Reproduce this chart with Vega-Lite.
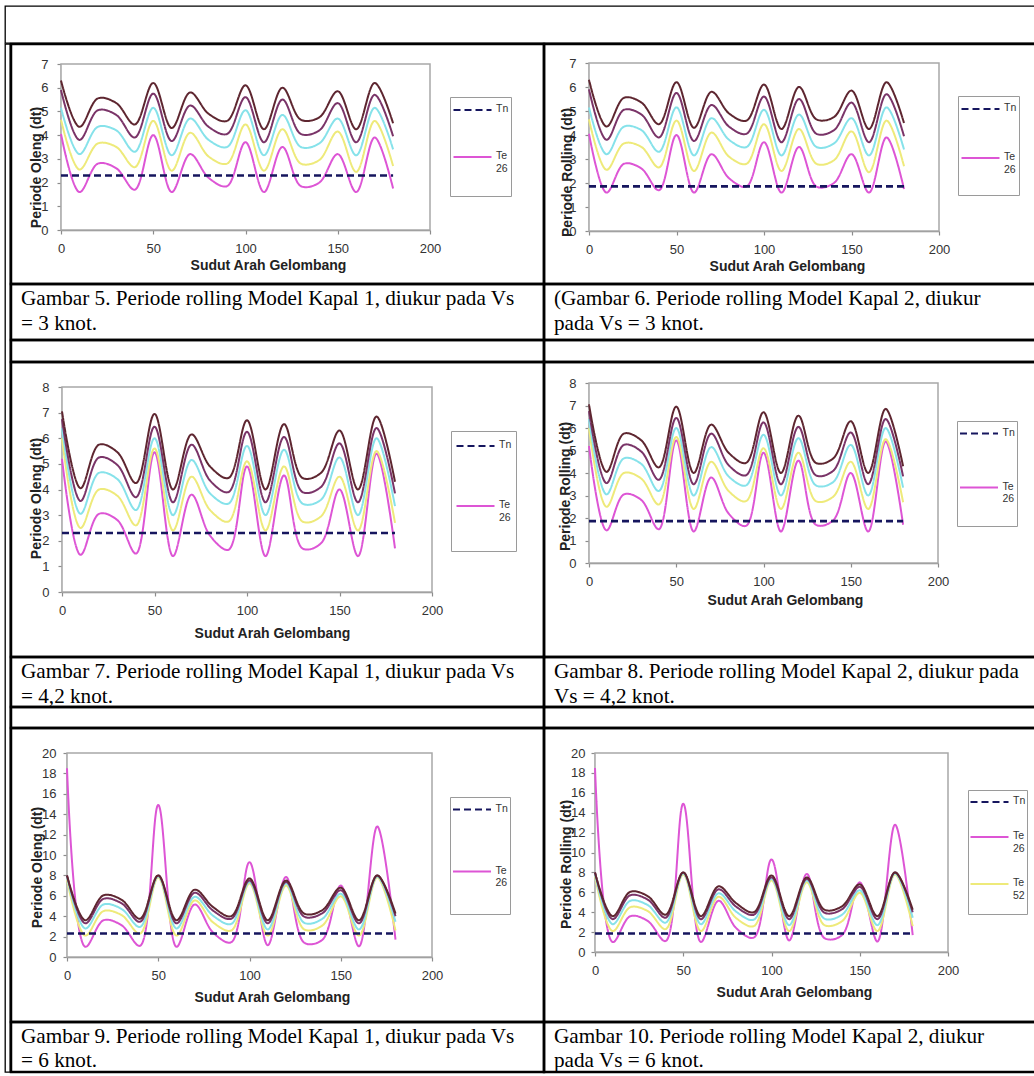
{
  "$schema": "https://vega.github.io/schema/vega-lite/v6.json",
  "padding": {"left": 4, "top": 5, "right": 0, "bottom": 0},
  "background": "white",
  "spacing": -3,
  "config": {
    "font": "Liberation Sans",
    "axis": {"grid": false, "domainColor": "#8c8c8c", "domainWidth": 1.5, "tickColor": "#8c8c8c", "tickSize": 4, "tickWidth": 1.2, "labelFont": "Liberation Sans", "labelFontSize": 13, "labelColor": "#333333", "labelFlush": false, "labelOverlap": false, "titleFont": "Liberation Sans", "titleFontSize": 14, "titleFontWeight": "bold", "titleColor": "#222222", "titleBaseline": "middle", "titleAlign": "center"},
    "axisY": {"titleAngle": 270},
    "legend": {"orient": "none", "strokeColor": "#9a9a9a", "fillColor": "white", "symbolType": "M-1,0H3", "symbolSize": 361, "symbolStrokeWidth": 2.2, "labelFont": "Liberation Sans", "labelFontSize": 10.5, "labelColor": "#333333", "labelBaseline": "top", "labelOffset": 22, "titleOrient": "bottom", "titleFontSize": 10}
  },
  "datasets": {
    "tn1": [{"sudut": 0, "T": 2.3, "seri": "Tn"}, {"sudut": 180, "T": 2.3, "seri": "Tn"}],
    "tn2": [{"sudut": 0, "T": 1.86, "seri": "Tn"}, {"sudut": 180, "T": 1.86, "seri": "Tn"}],
    "v3": [
      {"sudut":0,"T":4.05,"seri":"Te 26"},{"sudut":10,"T":1.6,"seri":"Te 26"},{"sudut":20,"T":2.8,"seri":"Te 26"},{"sudut":30,"T":2.6,"seri":"Te 26"},{"sudut":40,"T":1.7,"seri":"Te 26"},{"sudut":50,"T":4.0,"seri":"Te 26"},{"sudut":60,"T":1.6,"seri":"Te 26"},{"sudut":70,"T":3.2,"seri":"Te 26"},{"sudut":80,"T":2.2,"seri":"Te 26"},{"sudut":90,"T":1.85,"seri":"Te 26"},{"sudut":100,"T":3.7,"seri":"Te 26"},{"sudut":110,"T":1.6,"seri":"Te 26"},{"sudut":120,"T":3.5,"seri":"Te 26"},{"sudut":130,"T":1.85,"seri":"Te 26"},{"sudut":140,"T":2.0,"seri":"Te 26"},{"sudut":150,"T":3.2,"seri":"Te 26"},{"sudut":160,"T":1.6,"seri":"Te 26"},{"sudut":170,"T":3.9,"seri":"Te 26"},{"sudut":180,"T":1.75,"seri":"Te 26"},
      {"sudut":0,"T":4.65,"seri":"Te 52"},{"sudut":10,"T":2.55,"seri":"Te 52"},{"sudut":20,"T":3.65,"seri":"Te 52"},{"sudut":30,"T":3.5,"seri":"Te 52"},{"sudut":40,"T":2.65,"seri":"Te 52"},{"sudut":50,"T":4.6,"seri":"Te 52"},{"sudut":60,"T":2.5,"seri":"Te 52"},{"sudut":70,"T":4.1,"seri":"Te 52"},{"sudut":80,"T":3.1,"seri":"Te 52"},{"sudut":90,"T":2.8,"seri":"Te 52"},{"sudut":100,"T":4.45,"seri":"Te 52"},{"sudut":110,"T":2.5,"seri":"Te 52"},{"sudut":120,"T":4.25,"seri":"Te 52"},{"sudut":130,"T":2.8,"seri":"Te 52"},{"sudut":140,"T":2.95,"seri":"Te 52"},{"sudut":150,"T":4.15,"seri":"Te 52"},{"sudut":160,"T":2.45,"seri":"Te 52"},{"sudut":170,"T":4.6,"seri":"Te 52"},{"sudut":180,"T":2.7,"seri":"Te 52"},
      {"sudut":0,"T":5.15,"seri":"Te 78"},{"sudut":10,"T":3.2,"seri":"Te 78"},{"sudut":20,"T":4.35,"seri":"Te 78"},{"sudut":30,"T":4.2,"seri":"Te 78"},{"sudut":40,"T":3.3,"seri":"Te 78"},{"sudut":50,"T":5.15,"seri":"Te 78"},{"sudut":60,"T":3.15,"seri":"Te 78"},{"sudut":70,"T":4.7,"seri":"Te 78"},{"sudut":80,"T":3.8,"seri":"Te 78"},{"sudut":90,"T":3.5,"seri":"Te 78"},{"sudut":100,"T":5.05,"seri":"Te 78"},{"sudut":110,"T":3.15,"seri":"Te 78"},{"sudut":120,"T":4.85,"seri":"Te 78"},{"sudut":130,"T":3.5,"seri":"Te 78"},{"sudut":140,"T":3.65,"seri":"Te 78"},{"sudut":150,"T":4.7,"seri":"Te 78"},{"sudut":160,"T":3.15,"seri":"Te 78"},{"sudut":170,"T":5.15,"seri":"Te 78"},{"sudut":180,"T":3.4,"seri":"Te 78"},
      {"sudut":0,"T":5.9,"seri":"Te 104"},{"sudut":10,"T":3.8,"seri":"Te 104"},{"sudut":20,"T":5.05,"seri":"Te 104"},{"sudut":30,"T":4.85,"seri":"Te 104"},{"sudut":40,"T":3.9,"seri":"Te 104"},{"sudut":50,"T":5.75,"seri":"Te 104"},{"sudut":60,"T":3.75,"seri":"Te 104"},{"sudut":70,"T":5.25,"seri":"Te 104"},{"sudut":80,"T":4.35,"seri":"Te 104"},{"sudut":90,"T":4.05,"seri":"Te 104"},{"sudut":100,"T":5.6,"seri":"Te 104"},{"sudut":110,"T":3.7,"seri":"Te 104"},{"sudut":120,"T":5.5,"seri":"Te 104"},{"sudut":130,"T":4.05,"seri":"Te 104"},{"sudut":140,"T":4.2,"seri":"Te 104"},{"sudut":150,"T":5.35,"seri":"Te 104"},{"sudut":160,"T":3.7,"seri":"Te 104"},{"sudut":170,"T":5.7,"seri":"Te 104"},{"sudut":180,"T":3.95,"seri":"Te 104"},
      {"sudut":0,"T":6.3,"seri":"Te 130"},{"sudut":10,"T":4.35,"seri":"Te 130"},{"sudut":20,"T":5.55,"seri":"Te 130"},{"sudut":30,"T":5.35,"seri":"Te 130"},{"sudut":40,"T":4.45,"seri":"Te 130"},{"sudut":50,"T":6.2,"seri":"Te 130"},{"sudut":60,"T":4.3,"seri":"Te 130"},{"sudut":70,"T":5.8,"seri":"Te 130"},{"sudut":80,"T":4.9,"seri":"Te 130"},{"sudut":90,"T":4.6,"seri":"Te 130"},{"sudut":100,"T":6.1,"seri":"Te 130"},{"sudut":110,"T":4.25,"seri":"Te 130"},{"sudut":120,"T":6.0,"seri":"Te 130"},{"sudut":130,"T":4.65,"seri":"Te 130"},{"sudut":140,"T":4.75,"seri":"Te 130"},{"sudut":150,"T":5.85,"seri":"Te 130"},{"sudut":160,"T":4.25,"seri":"Te 130"},{"sudut":170,"T":6.2,"seri":"Te 130"},{"sudut":180,"T":4.5,"seri":"Te 130"}
    ],
    "v42": [
      {"sudut":0,"T":5.2,"seri":"Te 26"},{"sudut":10,"T":1.45,"seri":"Te 26"},{"sudut":20,"T":3.05,"seri":"Te 26"},{"sudut":30,"T":2.8,"seri":"Te 26"},{"sudut":40,"T":1.5,"seri":"Te 26"},{"sudut":50,"T":5.45,"seri":"Te 26"},{"sudut":60,"T":1.4,"seri":"Te 26"},{"sudut":70,"T":3.8,"seri":"Te 26"},{"sudut":80,"T":2.2,"seri":"Te 26"},{"sudut":90,"T":1.65,"seri":"Te 26"},{"sudut":100,"T":4.9,"seri":"Te 26"},{"sudut":110,"T":1.4,"seri":"Te 26"},{"sudut":120,"T":4.55,"seri":"Te 26"},{"sudut":130,"T":1.7,"seri":"Te 26"},{"sudut":140,"T":1.9,"seri":"Te 26"},{"sudut":150,"T":4.0,"seri":"Te 26"},{"sudut":160,"T":1.4,"seri":"Te 26"},{"sudut":170,"T":5.4,"seri":"Te 26"},{"sudut":180,"T":1.7,"seri":"Te 26"},
      {"sudut":0,"T":6.0,"seri":"Te 52"},{"sudut":10,"T":2.5,"seri":"Te 52"},{"sudut":20,"T":4.0,"seri":"Te 52"},{"sudut":30,"T":3.75,"seri":"Te 52"},{"sudut":40,"T":2.6,"seri":"Te 52"},{"sudut":50,"T":5.6,"seri":"Te 52"},{"sudut":60,"T":2.4,"seri":"Te 52"},{"sudut":70,"T":4.5,"seri":"Te 52"},{"sudut":80,"T":3.2,"seri":"Te 52"},{"sudut":90,"T":2.75,"seri":"Te 52"},{"sudut":100,"T":5.1,"seri":"Te 52"},{"sudut":110,"T":2.4,"seri":"Te 52"},{"sudut":120,"T":4.9,"seri":"Te 52"},{"sudut":130,"T":2.75,"seri":"Te 52"},{"sudut":140,"T":2.95,"seri":"Te 52"},{"sudut":150,"T":4.5,"seri":"Te 52"},{"sudut":160,"T":2.4,"seri":"Te 52"},{"sudut":170,"T":5.5,"seri":"Te 52"},{"sudut":180,"T":2.7,"seri":"Te 52"},
      {"sudut":0,"T":6.4,"seri":"Te 78"},{"sudut":10,"T":3.05,"seri":"Te 78"},{"sudut":20,"T":4.65,"seri":"Te 78"},{"sudut":30,"T":4.4,"seri":"Te 78"},{"sudut":40,"T":3.2,"seri":"Te 78"},{"sudut":50,"T":6.0,"seri":"Te 78"},{"sudut":60,"T":3.0,"seri":"Te 78"},{"sudut":70,"T":5.15,"seri":"Te 78"},{"sudut":80,"T":3.85,"seri":"Te 78"},{"sudut":90,"T":3.45,"seri":"Te 78"},{"sudut":100,"T":5.7,"seri":"Te 78"},{"sudut":110,"T":3.0,"seri":"Te 78"},{"sudut":120,"T":5.55,"seri":"Te 78"},{"sudut":130,"T":3.45,"seri":"Te 78"},{"sudut":140,"T":3.6,"seri":"Te 78"},{"sudut":150,"T":5.25,"seri":"Te 78"},{"sudut":160,"T":3.0,"seri":"Te 78"},{"sudut":170,"T":6.0,"seri":"Te 78"},{"sudut":180,"T":3.35,"seri":"Te 78"},
      {"sudut":0,"T":6.75,"seri":"Te 104"},{"sudut":10,"T":3.55,"seri":"Te 104"},{"sudut":20,"T":5.25,"seri":"Te 104"},{"sudut":30,"T":4.95,"seri":"Te 104"},{"sudut":40,"T":3.7,"seri":"Te 104"},{"sudut":50,"T":6.45,"seri":"Te 104"},{"sudut":60,"T":3.5,"seri":"Te 104"},{"sudut":70,"T":5.75,"seri":"Te 104"},{"sudut":80,"T":4.35,"seri":"Te 104"},{"sudut":90,"T":3.9,"seri":"Te 104"},{"sudut":100,"T":6.25,"seri":"Te 104"},{"sudut":110,"T":3.5,"seri":"Te 104"},{"sudut":120,"T":6.05,"seri":"Te 104"},{"sudut":130,"T":3.9,"seri":"Te 104"},{"sudut":140,"T":4.1,"seri":"Te 104"},{"sudut":150,"T":5.8,"seri":"Te 104"},{"sudut":160,"T":3.5,"seri":"Te 104"},{"sudut":170,"T":6.4,"seri":"Te 104"},{"sudut":180,"T":3.85,"seri":"Te 104"},
      {"sudut":0,"T":7.05,"seri":"Te 130"},{"sudut":10,"T":4.05,"seri":"Te 130"},{"sudut":20,"T":5.75,"seri":"Te 130"},{"sudut":30,"T":5.45,"seri":"Te 130"},{"sudut":40,"T":4.25,"seri":"Te 130"},{"sudut":50,"T":6.95,"seri":"Te 130"},{"sudut":60,"T":4.0,"seri":"Te 130"},{"sudut":70,"T":6.15,"seri":"Te 130"},{"sudut":80,"T":4.9,"seri":"Te 130"},{"sudut":90,"T":4.45,"seri":"Te 130"},{"sudut":100,"T":6.7,"seri":"Te 130"},{"sudut":110,"T":4.0,"seri":"Te 130"},{"sudut":120,"T":6.55,"seri":"Te 130"},{"sudut":130,"T":4.45,"seri":"Te 130"},{"sudut":140,"T":4.65,"seri":"Te 130"},{"sudut":150,"T":6.3,"seri":"Te 130"},{"sudut":160,"T":4.0,"seri":"Te 130"},{"sudut":170,"T":6.85,"seri":"Te 130"},{"sudut":180,"T":4.3,"seri":"Te 130"}
    ],
    "v6": [
      {"sudut":0,"T":18.5,"seri":"Te 26"},{"sudut":10,"T":1.0,"seri":"Te 26"},{"sudut":20,"T":3.6,"seri":"Te 26"},{"sudut":30,"T":3.1,"seri":"Te 26"},{"sudut":40,"T":1.1,"seri":"Te 26"},{"sudut":50,"T":14.9,"seri":"Te 26"},{"sudut":60,"T":1.0,"seri":"Te 26"},{"sudut":70,"T":5.15,"seri":"Te 26"},{"sudut":80,"T":2.4,"seri":"Te 26"},{"sudut":90,"T":1.45,"seri":"Te 26"},{"sudut":100,"T":9.3,"seri":"Te 26"},{"sudut":110,"T":1.15,"seri":"Te 26"},{"sudut":120,"T":7.85,"seri":"Te 26"},{"sudut":130,"T":1.4,"seri":"Te 26"},{"sudut":140,"T":1.7,"seri":"Te 26"},{"sudut":150,"T":7.0,"seri":"Te 26"},{"sudut":160,"T":1.05,"seri":"Te 26"},{"sudut":170,"T":12.8,"seri":"Te 26"},{"sudut":180,"T":1.7,"seri":"Te 26"},
      {"sudut":0,"T":7.6,"seri":"Te 52"},{"sudut":10,"T":2.1,"seri":"Te 52"},{"sudut":20,"T":4.5,"seri":"Te 52"},{"sudut":30,"T":4.1,"seri":"Te 52"},{"sudut":40,"T":2.3,"seri":"Te 52"},{"sudut":50,"T":7.8,"seri":"Te 52"},{"sudut":60,"T":2.1,"seri":"Te 52"},{"sudut":70,"T":5.55,"seri":"Te 52"},{"sudut":80,"T":3.4,"seri":"Te 52"},{"sudut":90,"T":2.6,"seri":"Te 52"},{"sudut":100,"T":7.2,"seri":"Te 52"},{"sudut":110,"T":2.1,"seri":"Te 52"},{"sudut":120,"T":7.0,"seri":"Te 52"},{"sudut":130,"T":2.7,"seri":"Te 52"},{"sudut":140,"T":3.1,"seri":"Te 52"},{"sudut":150,"T":5.95,"seri":"Te 52"},{"sudut":160,"T":2.1,"seri":"Te 52"},{"sudut":170,"T":7.8,"seri":"Te 52"},{"sudut":180,"T":2.6,"seri":"Te 52"},
      {"sudut":0,"T":7.85,"seri":"Te 78"},{"sudut":10,"T":2.8,"seri":"Te 78"},{"sudut":20,"T":5.15,"seri":"Te 78"},{"sudut":30,"T":4.7,"seri":"Te 78"},{"sudut":40,"T":2.95,"seri":"Te 78"},{"sudut":50,"T":7.9,"seri":"Te 78"},{"sudut":60,"T":2.8,"seri":"Te 78"},{"sudut":70,"T":5.9,"seri":"Te 78"},{"sudut":80,"T":4.05,"seri":"Te 78"},{"sudut":90,"T":3.25,"seri":"Te 78"},{"sudut":100,"T":7.35,"seri":"Te 78"},{"sudut":110,"T":2.7,"seri":"Te 78"},{"sudut":120,"T":7.2,"seri":"Te 78"},{"sudut":130,"T":3.35,"seri":"Te 78"},{"sudut":140,"T":3.75,"seri":"Te 78"},{"sudut":150,"T":6.2,"seri":"Te 78"},{"sudut":160,"T":2.7,"seri":"Te 78"},{"sudut":170,"T":7.9,"seri":"Te 78"},{"sudut":180,"T":3.45,"seri":"Te 78"},
      {"sudut":0,"T":8.0,"seri":"Te 104"},{"sudut":10,"T":3.3,"seri":"Te 104"},{"sudut":20,"T":5.7,"seri":"Te 104"},{"sudut":30,"T":5.25,"seri":"Te 104"},{"sudut":40,"T":3.45,"seri":"Te 104"},{"sudut":50,"T":8.0,"seri":"Te 104"},{"sudut":60,"T":3.3,"seri":"Te 104"},{"sudut":70,"T":6.3,"seri":"Te 104"},{"sudut":80,"T":4.55,"seri":"Te 104"},{"sudut":90,"T":3.75,"seri":"Te 104"},{"sudut":100,"T":7.5,"seri":"Te 104"},{"sudut":110,"T":3.3,"seri":"Te 104"},{"sudut":120,"T":7.35,"seri":"Te 104"},{"sudut":130,"T":3.95,"seri":"Te 104"},{"sudut":140,"T":4.3,"seri":"Te 104"},{"sudut":150,"T":6.55,"seri":"Te 104"},{"sudut":160,"T":3.3,"seri":"Te 104"},{"sudut":170,"T":8.0,"seri":"Te 104"},{"sudut":180,"T":4.0,"seri":"Te 104"},
      {"sudut":0,"T":8.0,"seri":"Te 130"},{"sudut":10,"T":3.6,"seri":"Te 130"},{"sudut":20,"T":6.05,"seri":"Te 130"},{"sudut":30,"T":5.6,"seri":"Te 130"},{"sudut":40,"T":3.75,"seri":"Te 130"},{"sudut":50,"T":8.0,"seri":"Te 130"},{"sudut":60,"T":3.6,"seri":"Te 130"},{"sudut":70,"T":6.6,"seri":"Te 130"},{"sudut":80,"T":4.9,"seri":"Te 130"},{"sudut":90,"T":4.0,"seri":"Te 130"},{"sudut":100,"T":7.7,"seri":"Te 130"},{"sudut":110,"T":3.6,"seri":"Te 130"},{"sudut":120,"T":7.5,"seri":"Te 130"},{"sudut":130,"T":4.25,"seri":"Te 130"},{"sudut":140,"T":4.6,"seri":"Te 130"},{"sudut":150,"T":6.8,"seri":"Te 130"},{"sudut":160,"T":3.6,"seri":"Te 130"},{"sudut":170,"T":8.0,"seri":"Te 130"},{"sudut":180,"T":4.25,"seri":"Te 130"}
    ]
  },
  "vconcat": [
    {"width": 1030, "height": 37, "view": {"stroke": "#000000", "strokeWidth": 1.3}, "data": {"values": [{}]}, "mark": {"type": "text"}, "encoding": {"text": {"value": ""}}},
    {"hconcat": [
      {"width": 5, "height": 1028, "view": {"stroke": "#000000", "strokeWidth": 1.3}, "data": {"values": [{}]}, "mark": {"type": "text"}, "encoding": {"text": {"value": ""}}},
      {"columns": 2, "spacing": 0, "bounds": "flush",
       "resolve": {"scale": {"color": "independent", "strokeDash": "independent"}, "legend": {"color": "independent", "strokeDash": "independent"}},
       "concat": [
          {"width": 533, "height": 240, "view": {"stroke": "#000000", "strokeWidth": 2.5},
           "layer": [
             {"data": {"values": [{}]}, "mark": {"type": "rect", "fill": "white", "stroke": "#a8a8a8", "strokeWidth": 1.5},
              "encoding": {
                "x": {"datum": 0, "type": "quantitative", "scale": {"domain": [0, 200], "range": [50, 419], "nice": false}, "axis": {"title": "Sudut Arah Gelombang", "values": [0, 50, 100, 150, 200], "labelOverlap": false, "offset": -54, "labelPadding": 8, "titleX": 257, "titleY": 35}},
                "x2": {"datum": 200},
                "y": {"datum": 0, "type": "quantitative", "scale": {"domain": [0, 7], "range": [186, 20], "nice": false}, "axis": {"title": "Periode Oleng (dt)", "values": [0, 1, 2, 3, 4, 5, 6, 7], "labelOverlap": false, "offset": -50, "labelPadding": 9, "titleX": -25, "titleY": 123}},
                "y2": {"datum": 7}}},
             {"data": {"name": "v3"}, "mark": {"type": "line", "interpolate": "catmull-rom", "strokeWidth": 2},
              "encoding": {
                "x": {"field": "sudut", "type": "quantitative", "scale": {"domain": [0, 200], "range": [50, 419], "nice": false}, "axis": {"title": "Sudut Arah Gelombang", "values": [0, 50, 100, 150, 200], "labelOverlap": false, "offset": -54, "labelPadding": 8, "titleX": 257, "titleY": 35}},
                "y": {"field": "T", "type": "quantitative", "scale": {"domain": [0, 7], "range": [186, 20], "nice": false}, "axis": {"title": "Periode Oleng (dt)", "values": [0, 1, 2, 3, 4, 5, 6, 7], "labelOverlap": false, "offset": -50, "labelPadding": 9, "titleX": -25, "titleY": 123}},
                "color": {"field": "seri", "type": "nominal", "scale": {"domain": ["Tn", "Te 26", "Te 52", "Te 78", "Te 104", "Te 130"], "range": ["#16165e", "#dd55d5", "#eeea7a", "#86e2ea", "#7a3468", "#5e2630"]}, "legend": {"title": " ", "legendX": 439, "legendY": 53, "values": ["Tn", "Te 26"], "padding": 2, "rowPadding": 31, "titlePadding": 10, "labelExpr": "split(datum.label, ' ')", "encode": {"labels": {"update": {"dy": {"value": -6}}}}}},
                "strokeDash": {"field": "seri", "type": "nominal", "scale": {"domain": ["Tn", "Te 26", "Te 52", "Te 78", "Te 104", "Te 130"], "range": [[7, 4], [1, 0], [1, 0], [1, 0], [1, 0], [1, 0]]}, "legend": {"title": " ", "legendX": 439, "legendY": 53, "values": ["Tn", "Te 26"], "padding": 2, "rowPadding": 31, "titlePadding": 10, "labelExpr": "split(datum.label, ' ')", "encode": {"labels": {"update": {"dy": {"value": -6}}}}}}
              }},
             {"data": {"name": "tn1"}, "mark": {"type": "line", "strokeWidth": 2.6},
              "encoding": {
                "x": {"field": "sudut", "type": "quantitative", "scale": {"domain": [0, 200], "range": [50, 419], "nice": false}, "axis": {"title": "Sudut Arah Gelombang", "values": [0, 50, 100, 150, 200], "labelOverlap": false, "offset": -54, "labelPadding": 8, "titleX": 257, "titleY": 35}},
                "y": {"field": "T", "type": "quantitative", "scale": {"domain": [0, 7], "range": [186, 20], "nice": false}, "axis": {"title": "Periode Oleng (dt)", "values": [0, 1, 2, 3, 4, 5, 6, 7], "labelOverlap": false, "offset": -50, "labelPadding": 9, "titleX": -25, "titleY": 123}},
                "color": {"field": "seri", "type": "nominal"}, "strokeDash": {"field": "seri", "type": "nominal"}}}
           ]},
          {"width": 492, "height": 240, "view": {"stroke": "#000000", "strokeWidth": 2.5},
           "layer": [
             {"data": {"values": [{}]}, "mark": {"type": "rect", "fill": "white", "stroke": "#a8a8a8", "strokeWidth": 1.5},
              "encoding": {
                "x": {"datum": 0, "type": "quantitative", "scale": {"domain": [0, 200], "range": [45, 395], "nice": false}, "axis": {"title": "Sudut Arah Gelombang", "values": [0, 50, 100, 150, 200], "labelOverlap": false, "offset": -53, "labelPadding": 8, "titleX": 243, "titleY": 35}},
                "x2": {"datum": 200},
                "y": {"datum": 0, "type": "quantitative", "scale": {"domain": [0, 7], "range": [187, 19], "nice": false}, "axis": {"title": "Periode Rolling (dt)", "values": [0, 1, 2, 3, 4, 5, 6, 7], "labelOverlap": false, "offset": -45, "labelPadding": 9, "titleX": -22, "titleY": 128}},
                "y2": {"datum": 7}}},
             {"data": {"name": "v3"}, "mark": {"type": "line", "interpolate": "catmull-rom", "strokeWidth": 2},
              "encoding": {
                "x": {"field": "sudut", "type": "quantitative", "scale": {"domain": [0, 200], "range": [45, 395], "nice": false}, "axis": {"title": "Sudut Arah Gelombang", "values": [0, 50, 100, 150, 200], "labelOverlap": false, "offset": -53, "labelPadding": 8, "titleX": 243, "titleY": 35}},
                "y": {"field": "T", "type": "quantitative", "scale": {"domain": [0, 7], "range": [187, 19], "nice": false}, "axis": {"title": "Periode Rolling (dt)", "values": [0, 1, 2, 3, 4, 5, 6, 7], "labelOverlap": false, "offset": -45, "labelPadding": 9, "titleX": -22, "titleY": 128}},
                "color": {"field": "seri", "type": "nominal", "scale": {"domain": ["Tn", "Te 26", "Te 52", "Te 78", "Te 104", "Te 130"], "range": ["#16165e", "#dd55d5", "#eeea7a", "#86e2ea", "#7a3468", "#5e2630"]}, "legend": {"title": " ", "legendX": 414, "legendY": 52, "values": ["Tn", "Te 26"], "padding": 2, "rowPadding": 33, "titlePadding": 8, "labelExpr": "split(datum.label, ' ')", "encode": {"labels": {"update": {"dy": {"value": -6}}}}}},
                "strokeDash": {"field": "seri", "type": "nominal", "scale": {"domain": ["Tn", "Te 26", "Te 52", "Te 78", "Te 104", "Te 130"], "range": [[7, 4], [1, 0], [1, 0], [1, 0], [1, 0], [1, 0]]}, "legend": {"title": " ", "legendX": 414, "legendY": 52, "values": ["Tn", "Te 26"], "padding": 2, "rowPadding": 33, "titlePadding": 8, "labelExpr": "split(datum.label, ' ')", "encode": {"labels": {"update": {"dy": {"value": -6}}}}}}
              }},
             {"data": {"name": "tn2"}, "mark": {"type": "line", "strokeWidth": 2.6},
              "encoding": {
                "x": {"field": "sudut", "type": "quantitative", "scale": {"domain": [0, 200], "range": [45, 395], "nice": false}, "axis": {"title": "Sudut Arah Gelombang", "values": [0, 50, 100, 150, 200], "labelOverlap": false, "offset": -53, "labelPadding": 8, "titleX": 243, "titleY": 35}},
                "y": {"field": "T", "type": "quantitative", "scale": {"domain": [0, 7], "range": [187, 19], "nice": false}, "axis": {"title": "Periode Rolling (dt)", "values": [0, 1, 2, 3, 4, 5, 6, 7], "labelOverlap": false, "offset": -45, "labelPadding": 9, "titleX": -22, "titleY": 128}},
                "color": {"field": "seri", "type": "nominal"}, "strokeDash": {"field": "seri", "type": "nominal"}}}
           ]},
          {"width": 533, "height": 56, "view": {"stroke": "#000000", "strokeWidth": 2.5}, "data": {"values": [{"cap": "Gambar 5. Periode rolling Model Kapal 1, diukur pada Vs\n= 3 knot."}]}, "mark": {"type": "text", "align": "left", "baseline": "top", "lineBreak": "\n", "font": "Liberation Serif", "fontSize": 21.2, "lineHeight": 25, "dx": 10, "dy": 4, "color": "#000000"}, "encoding": {"text": {"field": "cap"}, "x": {"datum": 0, "type": "quantitative", "scale": {"domain": [0, 1]}, "axis": null}, "y": {"datum": 1, "type": "quantitative", "scale": {"domain": [0, 1]}, "axis": null}}},
          {"width": 492, "height": 56, "view": {"stroke": "#000000", "strokeWidth": 2.5}, "data": {"values": [{"cap": "(Gambar 6. Periode rolling Model Kapal 2, diukur\npada Vs = 3 knot."}]}, "mark": {"type": "text", "align": "left", "baseline": "top", "lineBreak": "\n", "font": "Liberation Serif", "fontSize": 21.2, "lineHeight": 25, "dx": 10, "dy": 4, "color": "#000000"}, "encoding": {"text": {"field": "cap"}, "x": {"datum": 0, "type": "quantitative", "scale": {"domain": [0, 1]}, "axis": null}, "y": {"datum": 1, "type": "quantitative", "scale": {"domain": [0, 1]}, "axis": null}}},
          {"width": 533, "height": 22, "view": {"stroke": "#000000", "strokeWidth": 2.5}, "data": {"values": [{}]}, "mark": {"type": "text"}, "encoding": {"text": {"value": ""}}},
          {"width": 492, "height": 22, "view": {"stroke": "#000000", "strokeWidth": 2.5}, "data": {"values": [{}]}, "mark": {"type": "text"}, "encoding": {"text": {"value": ""}}},
          {"width": 533, "height": 295, "view": {"stroke": "#000000", "strokeWidth": 2.5},
           "layer": [
             {"data": {"values": [{}]}, "mark": {"type": "rect", "fill": "white", "stroke": "#a8a8a8", "strokeWidth": 1.5},
              "encoding": {
                "x": {"datum": 0, "type": "quantitative", "scale": {"domain": [0, 200], "range": [51, 421], "nice": false}, "axis": {"title": "Sudut Arah Gelombang", "values": [0, 50, 100, 150, 200], "labelOverlap": false, "offset": -65, "labelPadding": 8, "titleX": 261, "titleY": 41}},
                "x2": {"datum": 200},
                "y": {"datum": 0, "type": "quantitative", "scale": {"domain": [0, 8], "range": [230, 25], "nice": false}, "axis": {"title": "Periode Oleng (dt)", "values": [0, 1, 2, 3, 4, 5, 6, 7, 8], "labelOverlap": false, "offset": -51, "labelPadding": 9, "titleX": -26, "titleY": 136}},
                "y2": {"datum": 8}}},
             {"data": {"name": "v42"}, "mark": {"type": "line", "interpolate": "catmull-rom", "strokeWidth": 2},
              "encoding": {
                "x": {"field": "sudut", "type": "quantitative", "scale": {"domain": [0, 200], "range": [51, 421], "nice": false}, "axis": {"title": "Sudut Arah Gelombang", "values": [0, 50, 100, 150, 200], "labelOverlap": false, "offset": -65, "labelPadding": 8, "titleX": 261, "titleY": 41}},
                "y": {"field": "T", "type": "quantitative", "scale": {"domain": [0, 8], "range": [230, 25], "nice": false}, "axis": {"title": "Periode Oleng (dt)", "values": [0, 1, 2, 3, 4, 5, 6, 7, 8], "labelOverlap": false, "offset": -51, "labelPadding": 9, "titleX": -26, "titleY": 136}},
                "color": {"field": "seri", "type": "nominal", "scale": {"domain": ["Tn", "Te 26", "Te 52", "Te 78", "Te 104", "Te 130"], "range": ["#16165e", "#dd55d5", "#eeea7a", "#86e2ea", "#7a3468", "#5e2630"]}, "legend": {"title": " ", "legendX": 440, "legendY": 69, "values": ["Tn", "Te 26"], "padding": 4, "rowPadding": 44, "titlePadding": 14, "labelExpr": "split(datum.label, ' ')", "encode": {"labels": {"update": {"dy": {"value": -6}}}}}},
                "strokeDash": {"field": "seri", "type": "nominal", "scale": {"domain": ["Tn", "Te 26", "Te 52", "Te 78", "Te 104", "Te 130"], "range": [[7, 4], [1, 0], [1, 0], [1, 0], [1, 0], [1, 0]]}, "legend": {"title": " ", "legendX": 440, "legendY": 69, "values": ["Tn", "Te 26"], "padding": 4, "rowPadding": 44, "titlePadding": 14, "labelExpr": "split(datum.label, ' ')", "encode": {"labels": {"update": {"dy": {"value": -6}}}}}}
              }},
             {"data": {"name": "tn1"}, "mark": {"type": "line", "strokeWidth": 2.6},
              "encoding": {
                "x": {"field": "sudut", "type": "quantitative", "scale": {"domain": [0, 200], "range": [51, 421], "nice": false}, "axis": {"title": "Sudut Arah Gelombang", "values": [0, 50, 100, 150, 200], "labelOverlap": false, "offset": -65, "labelPadding": 8, "titleX": 261, "titleY": 41}},
                "y": {"field": "T", "type": "quantitative", "scale": {"domain": [0, 8], "range": [230, 25], "nice": false}, "axis": {"title": "Periode Oleng (dt)", "values": [0, 1, 2, 3, 4, 5, 6, 7, 8], "labelOverlap": false, "offset": -51, "labelPadding": 9, "titleX": -26, "titleY": 136}},
                "color": {"field": "seri", "type": "nominal"}, "strokeDash": {"field": "seri", "type": "nominal"}}}
           ]},
          {"width": 492, "height": 295, "view": {"stroke": "#000000", "strokeWidth": 2.5},
           "layer": [
             {"data": {"values": [{}]}, "mark": {"type": "rect", "fill": "white", "stroke": "#a8a8a8", "strokeWidth": 1.5},
              "encoding": {
                "x": {"datum": 0, "type": "quantitative", "scale": {"domain": [0, 200], "range": [45, 394], "nice": false}, "axis": {"title": "Sudut Arah Gelombang", "values": [0, 50, 100, 150, 200], "labelOverlap": false, "offset": -94, "labelPadding": 8, "titleX": 241, "titleY": 37}},
                "x2": {"datum": 200},
                "y": {"datum": 0, "type": "quantitative", "scale": {"domain": [0, 8], "range": [201, 21], "nice": false}, "axis": {"title": "Periode Rolling (dt)", "values": [0, 1, 2, 3, 4, 5, 6, 7, 8], "labelOverlap": false, "offset": -45, "labelPadding": 9, "titleX": -24, "titleY": 124}},
                "y2": {"datum": 8}}},
             {"data": {"name": "v42"}, "mark": {"type": "line", "interpolate": "catmull-rom", "strokeWidth": 2},
              "encoding": {
                "x": {"field": "sudut", "type": "quantitative", "scale": {"domain": [0, 200], "range": [45, 394], "nice": false}, "axis": {"title": "Sudut Arah Gelombang", "values": [0, 50, 100, 150, 200], "labelOverlap": false, "offset": -94, "labelPadding": 8, "titleX": 241, "titleY": 37}},
                "y": {"field": "T", "type": "quantitative", "scale": {"domain": [0, 8], "range": [201, 21], "nice": false}, "axis": {"title": "Periode Rolling (dt)", "values": [0, 1, 2, 3, 4, 5, 6, 7, 8], "labelOverlap": false, "offset": -45, "labelPadding": 9, "titleX": -24, "titleY": 124}},
                "color": {"field": "seri", "type": "nominal", "scale": {"domain": ["Tn", "Te 26", "Te 52", "Te 78", "Te 104", "Te 130"], "range": ["#16165e", "#dd55d5", "#eeea7a", "#86e2ea", "#7a3468", "#5e2630"]}, "legend": {"title": " ", "legendX": 413, "legendY": 59, "values": ["Tn", "Te 26"], "padding": 1.5, "rowPadding": 38, "titlePadding": 10, "labelExpr": "split(datum.label, ' ')", "encode": {"labels": {"update": {"dy": {"value": -6}}}}}},
                "strokeDash": {"field": "seri", "type": "nominal", "scale": {"domain": ["Tn", "Te 26", "Te 52", "Te 78", "Te 104", "Te 130"], "range": [[7, 4], [1, 0], [1, 0], [1, 0], [1, 0], [1, 0]]}, "legend": {"title": " ", "legendX": 413, "legendY": 59, "values": ["Tn", "Te 26"], "padding": 1.5, "rowPadding": 38, "titlePadding": 10, "labelExpr": "split(datum.label, ' ')", "encode": {"labels": {"update": {"dy": {"value": -6}}}}}}
              }},
             {"data": {"name": "tn2"}, "mark": {"type": "line", "strokeWidth": 2.6},
              "encoding": {
                "x": {"field": "sudut", "type": "quantitative", "scale": {"domain": [0, 200], "range": [45, 394], "nice": false}, "axis": {"title": "Sudut Arah Gelombang", "values": [0, 50, 100, 150, 200], "labelOverlap": false, "offset": -94, "labelPadding": 8, "titleX": 241, "titleY": 37}},
                "y": {"field": "T", "type": "quantitative", "scale": {"domain": [0, 8], "range": [201, 21], "nice": false}, "axis": {"title": "Periode Rolling (dt)", "values": [0, 1, 2, 3, 4, 5, 6, 7, 8], "labelOverlap": false, "offset": -45, "labelPadding": 9, "titleX": -24, "titleY": 124}},
                "color": {"field": "seri", "type": "nominal"}, "strokeDash": {"field": "seri", "type": "nominal"}}}
           ]},
          {"width": 533, "height": 50, "view": {"stroke": "#000000", "strokeWidth": 2.5}, "data": {"values": [{"cap": "Gambar 7. Periode rolling Model Kapal 1, diukur pada Vs\n= 4,2 knot."}]}, "mark": {"type": "text", "align": "left", "baseline": "top", "lineBreak": "\n", "font": "Liberation Serif", "fontSize": 21.2, "lineHeight": 25, "dx": 10, "dy": 4, "color": "#000000"}, "encoding": {"text": {"field": "cap"}, "x": {"datum": 0, "type": "quantitative", "scale": {"domain": [0, 1]}, "axis": null}, "y": {"datum": 1, "type": "quantitative", "scale": {"domain": [0, 1]}, "axis": null}}},
          {"width": 492, "height": 50, "view": {"stroke": "#000000", "strokeWidth": 2.5}, "data": {"values": [{"cap": "Gambar 8. Periode rolling Model Kapal 2, diukur pada\nVs = 4,2 knot."}]}, "mark": {"type": "text", "align": "left", "baseline": "top", "lineBreak": "\n", "font": "Liberation Serif", "fontSize": 21.2, "lineHeight": 25, "dx": 10, "dy": 4, "color": "#000000"}, "encoding": {"text": {"field": "cap"}, "x": {"datum": 0, "type": "quantitative", "scale": {"domain": [0, 1]}, "axis": null}, "y": {"datum": 1, "type": "quantitative", "scale": {"domain": [0, 1]}, "axis": null}}},
          {"width": 533, "height": 21, "view": {"stroke": "#000000", "strokeWidth": 2.5}, "data": {"values": [{}]}, "mark": {"type": "text"}, "encoding": {"text": {"value": ""}}},
          {"width": 492, "height": 21, "view": {"stroke": "#000000", "strokeWidth": 2.5}, "data": {"values": [{}]}, "mark": {"type": "text"}, "encoding": {"text": {"value": ""}}},
          {"width": 533, "height": 294, "view": {"stroke": "#000000", "strokeWidth": 2.5},
           "layer": [
             {"data": {"values": [{}]}, "mark": {"type": "rect", "fill": "white", "stroke": "#a8a8a8", "strokeWidth": 1.5},
              "encoding": {
                "x": {"datum": 0, "type": "quantitative", "scale": {"domain": [0, 200], "range": [56, 421], "nice": false}, "axis": {"title": "Sudut Arah Gelombang", "values": [0, 50, 100, 150, 200], "labelOverlap": false, "offset": -65, "labelPadding": 8, "titleX": 261, "titleY": 40}},
                "x2": {"datum": 200},
                "y": {"datum": 0, "type": "quantitative", "scale": {"domain": [0, 20], "range": [229, 25], "nice": false}, "axis": {"title": "Periode Oleng (dt)", "values": [0, 2, 4, 6, 8, 10, 12, 14, 16, 18, 20], "labelOverlap": false, "offset": -56, "labelPadding": 7, "titleX": -30, "titleY": 139}},
                "y2": {"datum": 20}}},
             {"data": {"name": "v6"}, "mark": {"type": "line", "interpolate": "catmull-rom", "strokeWidth": 2},
              "encoding": {
                "x": {"field": "sudut", "type": "quantitative", "scale": {"domain": [0, 200], "range": [56, 421], "nice": false}, "axis": {"title": "Sudut Arah Gelombang", "values": [0, 50, 100, 150, 200], "labelOverlap": false, "offset": -65, "labelPadding": 8, "titleX": 261, "titleY": 40}},
                "y": {"field": "T", "type": "quantitative", "scale": {"domain": [0, 20], "range": [229, 25], "nice": false}, "axis": {"title": "Periode Oleng (dt)", "values": [0, 2, 4, 6, 8, 10, 12, 14, 16, 18, 20], "labelOverlap": false, "offset": -56, "labelPadding": 7, "titleX": -30, "titleY": 139}},
                "color": {"field": "seri", "type": "nominal", "scale": {"domain": ["Tn", "Te 26", "Te 52", "Te 78", "Te 104", "Te 130"], "range": ["#16165e", "#dd55d5", "#eeea7a", "#86e2ea", "#7a3468", "#5e2630"]}, "legend": {"title": " ", "legendX": 439, "legendY": 69, "values": ["Tn", "Te 26"], "padding": 1.5, "rowPadding": 46, "titlePadding": 14, "labelExpr": "split(datum.label, ' ')", "encode": {"labels": {"update": {"dy": {"value": -6}}}}}},
                "strokeDash": {"field": "seri", "type": "nominal", "scale": {"domain": ["Tn", "Te 26", "Te 52", "Te 78", "Te 104", "Te 130"], "range": [[7, 4], [1, 0], [1, 0], [1, 0], [1, 0], [1, 0]]}, "legend": {"title": " ", "legendX": 439, "legendY": 69, "values": ["Tn", "Te 26"], "padding": 1.5, "rowPadding": 46, "titlePadding": 14, "labelExpr": "split(datum.label, ' ')", "encode": {"labels": {"update": {"dy": {"value": -6}}}}}}
              }},
             {"data": {"name": "tn1"}, "mark": {"type": "line", "strokeWidth": 2.6},
              "encoding": {
                "x": {"field": "sudut", "type": "quantitative", "scale": {"domain": [0, 200], "range": [56, 421], "nice": false}, "axis": {"title": "Sudut Arah Gelombang", "values": [0, 50, 100, 150, 200], "labelOverlap": false, "offset": -65, "labelPadding": 8, "titleX": 261, "titleY": 40}},
                "y": {"field": "T", "type": "quantitative", "scale": {"domain": [0, 20], "range": [229, 25], "nice": false}, "axis": {"title": "Periode Oleng (dt)", "values": [0, 2, 4, 6, 8, 10, 12, 14, 16, 18, 20], "labelOverlap": false, "offset": -56, "labelPadding": 7, "titleX": -30, "titleY": 139}},
                "color": {"field": "seri", "type": "nominal"}, "strokeDash": {"field": "seri", "type": "nominal"}}}
           ]},
          {"width": 492, "height": 294, "view": {"stroke": "#000000", "strokeWidth": 2.5},
           "layer": [
             {"data": {"values": [{}]}, "mark": {"type": "rect", "fill": "white", "stroke": "#a8a8a8", "strokeWidth": 1.5},
              "encoding": {
                "x": {"datum": 0, "type": "quantitative", "scale": {"domain": [0, 200], "range": [51, 404], "nice": false}, "axis": {"title": "Sudut Arah Gelombang", "values": [0, 50, 100, 150, 200], "labelOverlap": false, "offset": -70, "labelPadding": 8, "titleX": 250, "titleY": 40}},
                "x2": {"datum": 200},
                "y": {"datum": 0, "type": "quantitative", "scale": {"domain": [0, 20], "range": [224, 25], "nice": false}, "axis": {"title": "Periode Rolling (dt)", "values": [0, 2, 4, 6, 8, 10, 12, 14, 16, 18, 20], "labelOverlap": false, "offset": -51, "labelPadding": 6, "titleX": -29, "titleY": 136}},
                "y2": {"datum": 20}}},
             {"data": {"name": "v6"}, "mark": {"type": "line", "interpolate": "catmull-rom", "strokeWidth": 2},
              "encoding": {
                "x": {"field": "sudut", "type": "quantitative", "scale": {"domain": [0, 200], "range": [51, 404], "nice": false}, "axis": {"title": "Sudut Arah Gelombang", "values": [0, 50, 100, 150, 200], "labelOverlap": false, "offset": -70, "labelPadding": 8, "titleX": 250, "titleY": 40}},
                "y": {"field": "T", "type": "quantitative", "scale": {"domain": [0, 20], "range": [224, 25], "nice": false}, "axis": {"title": "Periode Rolling (dt)", "values": [0, 2, 4, 6, 8, 10, 12, 14, 16, 18, 20], "labelOverlap": false, "offset": -51, "labelPadding": 6, "titleX": -29, "titleY": 136}},
                "color": {"field": "seri", "type": "nominal", "scale": {"domain": ["Tn", "Te 26", "Te 52", "Te 78", "Te 104", "Te 130"], "range": ["#16165e", "#dd55d5", "#eeea7a", "#86e2ea", "#7a3468", "#5e2630"]}, "legend": {"title": " ", "legendX": 424, "legendY": 62, "values": ["Tn", "Te 26", "Te 52"], "padding": 1, "rowPadding": 19, "titlePadding": 2, "labelExpr": "split(datum.label, ' ')", "encode": {"labels": {"update": {"dy": {"value": -6}}}}}},
                "strokeDash": {"field": "seri", "type": "nominal", "scale": {"domain": ["Tn", "Te 26", "Te 52", "Te 78", "Te 104", "Te 130"], "range": [[7, 4], [1, 0], [1, 0], [1, 0], [1, 0], [1, 0]]}, "legend": {"title": " ", "legendX": 424, "legendY": 62, "values": ["Tn", "Te 26", "Te 52"], "padding": 1, "rowPadding": 19, "titlePadding": 2, "labelExpr": "split(datum.label, ' ')", "encode": {"labels": {"update": {"dy": {"value": -6}}}}}}
              }},
             {"data": {"name": "tn2"}, "mark": {"type": "line", "strokeWidth": 2.6},
              "encoding": {
                "x": {"field": "sudut", "type": "quantitative", "scale": {"domain": [0, 200], "range": [51, 404], "nice": false}, "axis": {"title": "Sudut Arah Gelombang", "values": [0, 50, 100, 150, 200], "labelOverlap": false, "offset": -70, "labelPadding": 8, "titleX": 250, "titleY": 40}},
                "y": {"field": "T", "type": "quantitative", "scale": {"domain": [0, 20], "range": [224, 25], "nice": false}, "axis": {"title": "Periode Rolling (dt)", "values": [0, 2, 4, 6, 8, 10, 12, 14, 16, 18, 20], "labelOverlap": false, "offset": -51, "labelPadding": 6, "titleX": -29, "titleY": 136}},
                "color": {"field": "seri", "type": "nominal"}, "strokeDash": {"field": "seri", "type": "nominal"}}}
           ]},
          {"width": 533, "height": 50, "view": {"stroke": "#000000", "strokeWidth": 2.5}, "data": {"values": [{"cap": "Gambar 9. Periode rolling Model Kapal 1, diukur pada Vs\n= 6 knot."}]}, "mark": {"type": "text", "align": "left", "baseline": "top", "lineBreak": "\n", "font": "Liberation Serif", "fontSize": 21.2, "lineHeight": 24, "dx": 10, "dy": 4, "color": "#000000"}, "encoding": {"text": {"field": "cap"}, "x": {"datum": 0, "type": "quantitative", "scale": {"domain": [0, 1]}, "axis": null}, "y": {"datum": 1, "type": "quantitative", "scale": {"domain": [0, 1]}, "axis": null}}},
          {"width": 492, "height": 50, "view": {"stroke": "#000000", "strokeWidth": 2.5}, "data": {"values": [{"cap": "Gambar 10. Periode rolling Model Kapal 2, diukur\npada Vs = 6 knot."}]}, "mark": {"type": "text", "align": "left", "baseline": "top", "lineBreak": "\n", "font": "Liberation Serif", "fontSize": 21.2, "lineHeight": 24, "dx": 10, "dy": 4, "color": "#000000"}, "encoding": {"text": {"field": "cap"}, "x": {"datum": 0, "type": "quantitative", "scale": {"domain": [0, 1]}, "axis": null}, "y": {"datum": 1, "type": "quantitative", "scale": {"domain": [0, 1]}, "axis": null}}}
      ]}
    ], "spacing": -4}
  ]
}
